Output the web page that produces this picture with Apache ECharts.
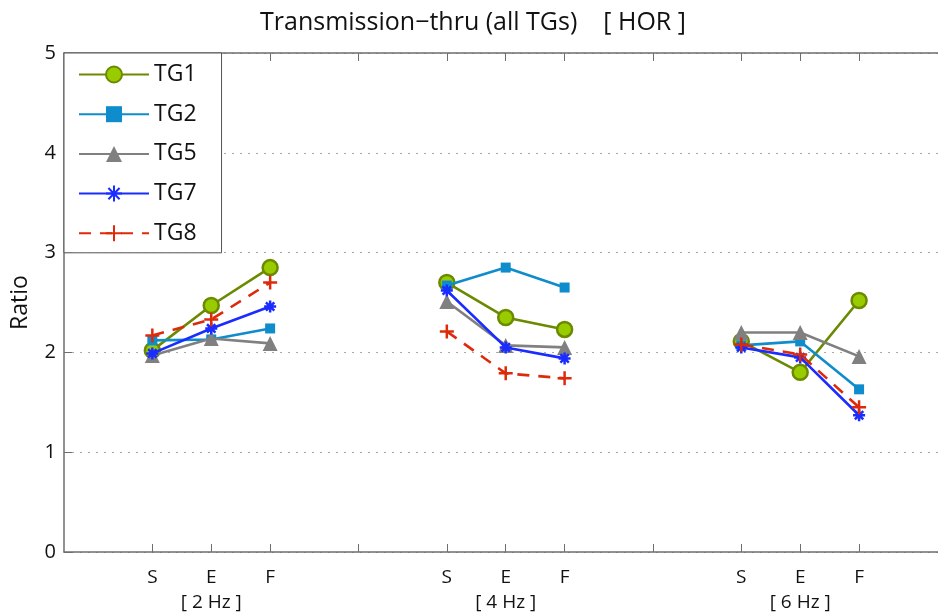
<!DOCTYPE html>
<html>
<head>
<meta charset="utf-8">
<script src="https://cdn.jsdelivr.net/npm/echarts@6/dist/echarts.min.js"></script>
<style>html,body{margin:0;padding:0;background:#fff}#c{width:938px;height:614px}</style>
</head>
<body>
<div id="c"></div>
<script>
// ---- data ----
const categories = ['S', 'E', 'F', 'S', 'E', 'F', 'S', 'E', 'F'];
const xPositions = [1, 2, 3, 6, 7, 8, 11, 12, 13];
const separatorTicks = [4.5, 9.5];
const groupLabels = ['[ 2 Hz ]', '[ 4 Hz ]', '[ 6 Hz ]'];
const yTicks = [0, 1, 2, 3, 4, 5];
const seriesNames = ['TG1', 'TG2', 'TG5', 'TG7', 'TG8'];
const tg1 = [2.02, 2.47, 2.85, 2.70, 2.35, 2.23, 2.11, 1.80, 2.52];
const tg2 = [2.12, 2.13, 2.24, 2.67, 2.85, 2.65, 2.07, 2.11, 1.63];
const tg5 = [1.97, 2.14, 2.09, 2.51, 2.07, 2.05, 2.20, 2.20, 1.96];
const tg7 = [1.99, 2.24, 2.46, 2.62, 2.05, 1.94, 2.05, 1.95, 1.37];
const tg8 = [2.17, 2.33, 2.70, 2.21, 1.79, 1.74, 2.08, 1.98, 1.45];
const title = 'Transmission\u2212thru (all TGs)    [ HOR ]';
const yName = 'Ratio';

// ---- build ----
function build(vals) {
  const out = [];
  for (let i = 0; i < vals.length; i++) {
    out.push([xPositions[i], vals[i]]);
    if (i % 3 === 2 && i < vals.length - 1) out.push([separatorTicks[(i - 2) / 3], '-']);
  }
  return out;
}
const FONT = '"Open Sans", "Noto Sans", sans-serif';
const AX = '#6e6e6e';
const plusPath = 'path://M0,5L10,5M5,0L5,10';
const starPath = 'path://M0,5L10,5M5,0L5,10M1.5,1.5L8.5,8.5M8.5,1.5L1.5,8.5';

const styles = [
  {data: tg1, color: '#6b8a00', symbol: 'circle', size: 15, item: {color: '#99cc00', borderColor: '#6b8a00', borderWidth: 2.5}, line: {width: 2.6}},
  {data: tg2, color: '#0f8ccc', symbol: 'rect', size: 10, item: {color: '#0f8ccc'}, line: {width: 2.6}},
  {data: tg5, color: '#808080', symbol: 'triangle', size: 15, item: {color: '#808080'}, line: {width: 2.6}},
  {data: tg7, color: '#1a2cff', symbol: starPath, size: 12, item: {color: '#1a2cff', borderColor: '#1a2cff', borderWidth: 2.5}, line: {width: 2.6}},
  {data: tg8, color: '#dd2a0a', symbol: plusPath, size: 14, item: {color: '#dd2a0a', borderColor: '#dd2a0a', borderWidth: 2.5}, line: {width: 2.6, type: [12, 9]}}
];

const series = styles.map((s, k) => ({
  name: seriesNames[k],
  type: 'line',
  data: build(s.data),
  connectNulls: false,
  symbol: s.symbol,
  symbolSize: s.size,
  showAllSymbol: true,
  color: s.color,
  itemStyle: s.item,
  lineStyle: Object.assign({color: s.color}, s.line),
  emphasis: {disabled: true},
  animation: false,
  z: 3 + k
}));

const chart = echarts.init(document.getElementById('c'), null, {renderer: 'canvas'});
chart.setOption({
  backgroundColor: '#fff',
  animation: false,
  textStyle: {fontFamily: FONT},
  title: {
    text: title, left: 468, top: 5, textAlign: 'center',
    textStyle: {fontFamily: FONT, fontSize: 25, fontWeight: 'normal', color: '#111'}
  },
  legend: {
    orient: 'vertical', left: 64, top: 53,
    padding: [10, 25, 8, 14],
    itemGap: 16.7, itemWidth: 70, itemHeight: 20,
    backgroundColor: '#fff', borderColor: '#555', borderWidth: 1,
    textStyle: {fontFamily: FONT, fontSize: 23, color: '#111', lineHeight: 20},
    data: seriesNames
  },
  grid: {left: 64, right: 0, top: 53, bottom: 62, containLabel: false, outerBoundsMode: 'none'},
  xAxis: [{
    type: 'value', min: -0.5, max: 14.34, position: 'bottom',
    axisLine: {onZero: false, lineStyle: {color: AX, width: 1.5}},
    axisTick: {show: true, inside: true, length: 8, lineStyle: {color: AX}, customValues: xPositions.concat(separatorTicks)},
    axisLabel: {
      customValues: xPositions, margin: 13, color: '#111', fontFamily: FONT, fontSize: 19, lineHeight: 25,
      formatter: function (v) {
        const i = xPositions.indexOf(v);
        if (i < 0) return '';
        if (i % 3 === 1) return categories[i] + '\n' + groupLabels[(i - 1) / 3];
        return categories[i];
      }
    },
    splitLine: {show: false}
  }, {
    type: 'value', min: -0.5, max: 14.34, position: 'top',
    axisLine: {onZero: false, lineStyle: {color: AX, width: 1.5}},
    axisTick: {show: true, inside: true, length: 8, lineStyle: {color: AX}, customValues: xPositions.concat(separatorTicks)},
    axisLabel: {show: false},
    splitLine: {show: false}
  }],
  yAxis: [{
    type: 'value', min: 0, max: 5, interval: 1, position: 'left',
    name: yName, nameLocation: 'middle', nameGap: 32,
    nameTextStyle: {fontFamily: FONT, fontSize: 23, color: '#111'},
    axisLine: {show: true, onZero: false, lineStyle: {color: AX, width: 1.5}},
    axisTick: {show: true, inside: true, length: 8, lineStyle: {color: AX}},
    axisLabel: {margin: 8, color: '#111', fontFamily: FONT, fontSize: 20,
      formatter: v => (yTicks.indexOf(v) >= 0 ? String(v) : '')},
    splitLine: {show: true, lineStyle: {color: '#aaaaaa', type: [2, 6], width: 1.2}}
  }],
  series: series
});
</script>
</body>
</html>
